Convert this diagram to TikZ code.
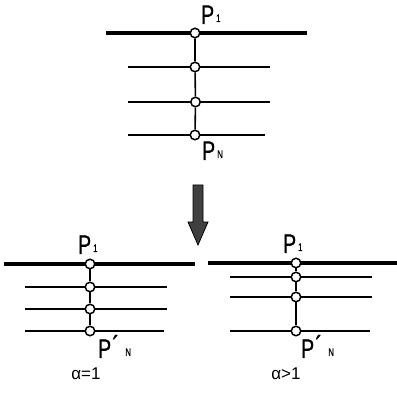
\documentclass[tikz,border=0pt]{standalone}
\usepackage{fontspec}
\newfontfamily\labfont[FakeStretch=0.72,FakeBold=0.6]{Liberation Sans}
\newfontfamily\alfont{Liberation Sans}
\newcommand\mysub[1]{\hspace{2pt}\raisebox{2pt}{\fontsize{11}{11}\selectfont #1}}
\newcommand\myprime{\hspace{1pt}\raisebox{1pt}{\fontsize{30}{30}\selectfont ´}\hspace{4pt}}
\begin{document}
\begin{tikzpicture}[x=1pt,y=-1pt,
  thickline/.style={line width=3.8pt},
  thinline/.style={line width=1.4pt},
  link/.style={line width=1.6pt},
  pt/.style={circle,draw=black,fill=white,line width=1.5pt,inner sep=0pt,minimum size=9.5pt},
  lab/.style={font=\labfont\fontsize{27}{27}\selectfont,inner sep=0pt,anchor=base west},
  alab/.style={font=\alfont\fontsize{17}{17}\selectfont,inner sep=0pt,anchor=base}]
\useasboundingbox (0,0) rectangle (397,395);
% ---------- top
\coordinate (ta) at (106,33); \coordinate (tb) at (307,33);
\coordinate (t1a) at (128,67); \coordinate (t1b) at (270,67);
\coordinate (t2a) at (128,102); \coordinate (t2b) at (270,102);
\coordinate (t3a) at (128,135); \coordinate (t3b) at (265,135);
\draw[thickline] (ta) -- (tb);
\draw[thinline] (t1a) -- (t1b);
\draw[thinline] (t2a) -- (t2b);
\draw[thinline] (t3a) -- (t3b);
\node[pt] (tc0) at (195,33) {};
\node[pt] (tc1) at (195,67) {};
\node[pt] (tc2) at (195.5,102) {};
\node[pt] (tc3) at (195,135) {};
\draw[link] (tc0) -- (tc1) (tc1) -- (tc2) (tc2) -- (tc3);
\node[lab] (tp1) at (201,24) {P\mysub{1}};
\node[lab] (tpn) at (202,160) {P\mysub{N}};
% ---------- arrow
\draw[draw=black,fill=black!75,line width=0.8pt]
  (193,185) -- (203,185) -- (203,222) -- (208,222) -- (198,245) -- (188,222) -- (193,222) -- cycle;
% ---------- bottom left
\coordinate (la) at (4,264); \coordinate (lb) at (195,264);
\coordinate (l1a) at (25,287); \coordinate (l1b) at (167,287);
\coordinate (l2a) at (25,309); \coordinate (l2b) at (167,309);
\coordinate (l3a) at (25,331); \coordinate (l3b) at (164,331);
\draw[thickline] (la) -- (lb);
\draw[thinline] (l1a) -- (l1b);
\draw[thinline] (l2a) -- (l2b);
\draw[thinline] (l3a) -- (l3b);
\node[pt] (lc0) at (90,264) {};
\node[pt] (lc1) at (90,287) {};
\node[pt] (lc2) at (90,309) {};
\node[pt] (lc3) at (90,331) {};
\draw[link] (lc0) -- (lc1) (lc1) -- (lc2) (lc2) -- (lc3);
\node[lab] (lp1) at (78,254) {P\mysub{1}};
\node[lab] (lpn) at (98,358) {P\myprime\mysub{N}};
\node[alab] (la1) at (86,380) {α=1};
% ---------- bottom right
\coordinate (ra) at (208,263); \coordinate (rb) at (397,263);
\coordinate (r1a) at (230,277); \coordinate (r1b) at (372,277);
\coordinate (r2a) at (230,297); \coordinate (r2b) at (372,297);
\coordinate (r3a) at (230,331); \coordinate (r3b) at (370,331);
\draw[thickline] (ra) -- (rb);
\draw[thinline] (r1a) -- (r1b);
\draw[thinline] (r2a) -- (r2b);
\draw[thinline] (r3a) -- (r3b);
\node[pt] (rc0) at (296,263) {};
\node[pt] (rc1) at (296,277) {};
\node[pt] (rc2) at (296,297) {};
\node[pt] (rc3) at (296,331) {};
\draw[link] (rc0) -- (rc1) (rc1) -- (rc2) (rc2) -- (rc3);
\node[lab] (rp1) at (283,253) {P\mysub{1}};
\node[lab] (rpn) at (301,358) {P\myprime\mysub{N}};
\node[alab] (ra1) at (286,380) {α>1};
\end{tikzpicture}
\end{document}
